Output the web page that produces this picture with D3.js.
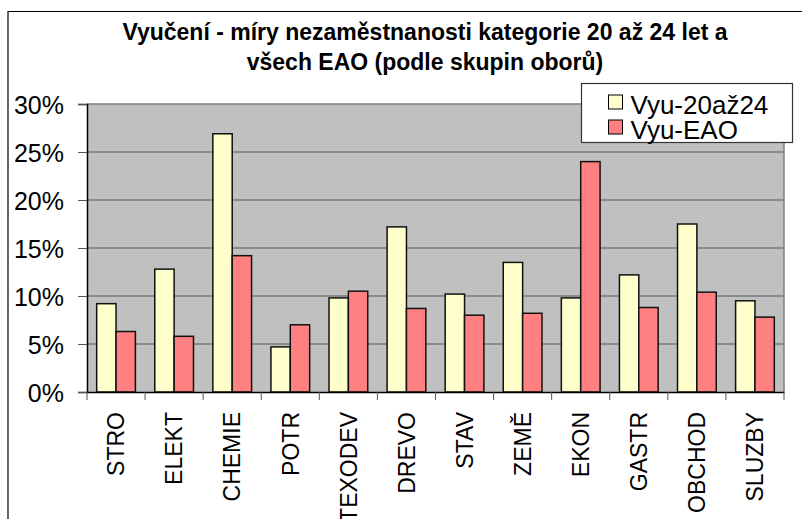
<!DOCTYPE html>
<html>
<head>
<meta charset="utf-8">
<script src="https://cdn.jsdelivr.net/npm/d3@7"></script>
<style>
  body { margin: 0; background: #fff; }
  svg text { font-family: "Liberation Sans", Arial, sans-serif; }
</style>
</head>
<body>
<div id="chart"></div>
<script>
// data
const categories = ["STRO", "ELEKT", "CHEMIE", "POTR", "TEXODEV", "DREVO", "STAV", "ZEMĚ", "EKON", "GASTR", "OBCHOD", "SLUZBY"];
const vyu2024 = [9.2, 12.8, 26.9, 4.7, 9.8, 17.2, 10.2, 13.5, 9.8, 12.2, 17.5, 9.5];
const vyuEAO = [6.3, 5.8, 14.2, 7.0, 10.5, 8.7, 8.0, 8.2, 24.0, 8.8, 10.4, 7.8];
const seriesNames = ["Vyu-20až24", "Vyu-EAO"];
const seriesColors = ["#ffffcc", "#ff8080"];
const yTicks = [0, 5, 10, 15, 20, 25, 30];
const titleLines = ["Vyučení - míry nezaměstnanosti kategorie 20 až 24 let a", "všech EAO (podle skupin oborů)"];

const width = 802, height = 519;
const plot = { left: 87, right: 784, top: 104, bottom: 392 };

const svg = d3.select("#chart").append("svg")
    .attr("width", width).attr("height", height);

// outer frame (top and left edges visible)
svg.append("path")
    .attr("d", `M8,${height} L8,11.5 L${width},11.5`)
    .attr("fill", "none").attr("stroke", "#000").attr("stroke-width", 1.2);

// title
svg.append("g").selectAll("text")
    .data(titleLines)
    .enter().append("text")
    .attr("x", 425)
    .attr("y", (d, i) => 40 + i * 30)
    .attr("text-anchor", "middle")
    .attr("font-size", 23)
    .attr("font-weight", "bold")
    .text(d => d);

const x = d3.scaleBand().domain(categories).range([plot.left, plot.right]);
const inner = d3.scaleBand().domain([0, 1]).range([0, x.bandwidth()]).paddingOuter(0.5);
const y = d3.scaleLinear().domain([0, 30]).range([plot.bottom, plot.top]);

// plot background
svg.append("rect")
    .attr("x", plot.left).attr("y", plot.top)
    .attr("width", plot.right - plot.left).attr("height", plot.bottom - plot.top)
    .attr("fill", "#c0c0c0");

// gridlines
svg.append("g").selectAll("line")
    .data(yTicks.filter(t => t > 0 && t < 30))
    .enter().append("line")
    .attr("x1", plot.left).attr("x2", plot.right)
    .attr("y1", d => y(d)).attr("y2", d => y(d))
    .attr("stroke", "#555").attr("stroke-width", 1);

// plot border top/right
svg.append("path")
    .attr("d", `M${plot.left},${plot.top} L${plot.right},${plot.top} L${plot.right},${plot.bottom}`)
    .attr("fill", "none").attr("stroke", "#808080").attr("stroke-width", 1.5);

// bars
const series = [vyu2024, vyuEAO];
series.forEach((vals, s) => {
  svg.append("g").selectAll("rect")
      .data(vals)
      .enter().append("rect")
      .attr("x", (d, i) => x(categories[i]) + inner(s))
      .attr("y", d => y(d))
      .attr("width", inner.bandwidth())
      .attr("height", d => y(0) - y(d))
      .attr("fill", seriesColors[s])
      .attr("stroke", "#111")
      .attr("stroke-width", 1.5);
});

// y axis
const yAxis = svg.append("g")
    .attr("transform", `translate(${plot.left},0)`)
    .call(d3.axisLeft(y).tickValues(yTicks).tickFormat(d => d + "%").tickSize(9).tickPadding(14));
yAxis.select(".domain").attr("stroke", "#000").attr("stroke-width", 1.5);
yAxis.selectAll(".tick line").attr("stroke", "#555");
yAxis.selectAll(".tick text")
    .attr("font-size", 25)
    .attr("font-family", "Liberation Sans, Arial, sans-serif")
    .attr("fill", "#000")
    .attr("dy", "0.36em");

// x axis
const xAxis = svg.append("g")
    .attr("transform", `translate(0,${plot.bottom})`)
    .call(d3.axisBottom(x).tickSize(0).tickSizeOuter(0));
xAxis.select(".domain").attr("stroke", "#000").attr("stroke-width", 1.5);
xAxis.selectAll(".tick text")
    .attr("font-size", 23)
    .attr("font-family", "Liberation Sans, Arial, sans-serif")
    .attr("fill", "#000")
    .attr("text-anchor", "end")
    .attr("transform", "rotate(-90)")
    .attr("x", -20)
    .attr("y", 0)
    .attr("dy", "0.36em");

// category boundary ticks
svg.append("g").selectAll("line")
    .data(categories.concat(["end"]))
    .enter().append("line")
    .attr("x1", (d, i) => i < categories.length ? x(d) : plot.right)
    .attr("x2", (d, i) => i < categories.length ? x(d) : plot.right)
    .attr("y1", plot.bottom).attr("y2", plot.bottom + 8)
    .attr("stroke", "#555").attr("stroke-width", 1);

// legend
const legend = svg.append("g").attr("transform", "translate(581.5,83.5)");
legend.append("rect")
    .attr("width", 211).attr("height", 59)
    .attr("fill", "#fff").attr("stroke", "#333").attr("stroke-width", 1.2);
const items = legend.selectAll("g.item")
    .data(seriesNames)
    .enter().append("g")
    .attr("class", "item")
    .attr("transform", (d, i) => `translate(27,${11.5 + i * 25})`);
items.append("rect")
    .attr("width", 14).attr("height", 14)
    .attr("fill", (d, i) => seriesColors[i])
    .attr("stroke", "#000").attr("stroke-width", 1);
items.append("text")
    .attr("x", 22).attr("y", 18.5)
    .attr("font-size", 26)
    .text(d => d);
</script>
</body>
</html>
